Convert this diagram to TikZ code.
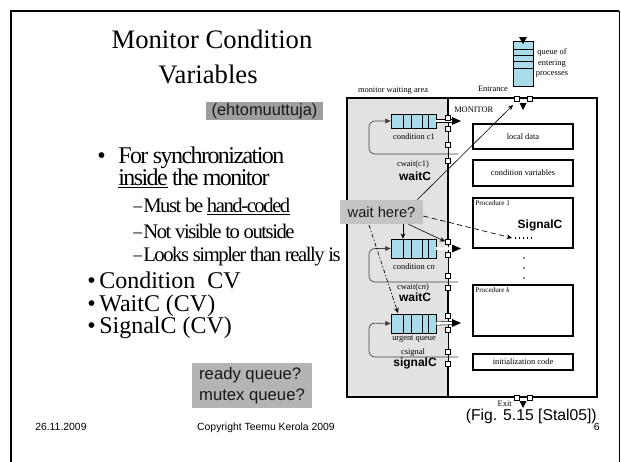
\documentclass[tikz,border=0pt]{standalone}
\usepackage{fontspec}
\setmainfont{Liberation Serif}
\setsansfont{Liberation Sans}
\newfontfamily\condA[LetterSpace=-6.5]{Liberation Serif}
\newfontfamily\condB[LetterSpace=-7]{Liberation Serif}
\usetikzlibrary{arrows.meta,calc}
\definecolor{qc}{RGB}{168,220,234}
\definecolor{areagray}{RGB}{226,226,226}
\definecolor{boxA}{RGB}{158,158,158}
\definecolor{boxB}{RGB}{196,196,196}
\definecolor{boxC}{RGB}{180,180,180}
\begin{document}
\begin{tikzpicture}[x=0.75pt,y=-0.75pt,
  lbl/.style={inner sep=0,font=\fontsize{6.3}{7}\selectfont},
  tiny/.style={inner sep=0,font=\fontsize{5.4}{6}\selectfont},
  bsans/.style={inner sep=0,font=\sffamily\bfseries\fontsize{9}{10}\selectfont},
  sq/.style={draw,fill=white,minimum size=3.8pt,inner sep=0,line width=0.45pt},
  qbox/.style={draw,fill=qc,line width=0.5pt,inner sep=0},
  pbox/.style={draw,line width=1.4pt,inner sep=0},
  loopline/.style={line width=0.5pt,draw=black!75,rounded corners=4.5pt,-{Triangle[length=4pt,width=3.5pt]}},
  outpipe/.style={double,double distance=2pt,line width=0.4pt},
  bul/.style={anchor=mid west,inner sep=0,font=\fontsize{18}{20}\selectfont},
  sub/.style={anchor=mid west,inner sep=0,font=\condB\fontsize{15.5}{17}\selectfont},
  subdash/.style={anchor=mid west,inner sep=0,font=\fontsize{13}{14}\selectfont},
  gbox/.style={inner sep=0,text=black!90}
]
\useasboundingbox (0,0) rectangle (621,461);
\fill[white] (0,0) rectangle (621,461);
% slide frame
\draw[line width=1.8pt] (11,470) -- (11,11) -- (619,11);
\draw[line width=0.7pt] (619,11) -- (619,470);

% title
\node[anchor=mid,inner sep=0,font=\fontsize{20}{24}\selectfont] (title1) at (212,45) {Monitor Condition};
\node[anchor=mid,inner sep=0,font=\fontsize{20}{24}\selectfont] (title2) at (208,80) {Variables};
\node[gbox,fill=boxA,minimum width=87.75pt,minimum height=13.5pt,font=\sffamily\fontsize{12.3}{14}\selectfont] (eh) at (264.5,111) {(ehtomuuttuja)};

% bullets
\node[bul] (b1) at (97,160) {•};
\node[bul,font=\condA\fontsize{18}{20}\selectfont] (t1) at (118,160) {For synchronization};
\node[bul,font=\condA\fontsize{18}{20}\selectfont] (t1b) at (118,182) {\underline{inside} the monitor};
\node[subdash] (d1) at (133,208) {–};
\node[sub] (s1) at (143,209) {Must be \underline{hand-coded}};
\node[subdash] (d2) at (133,234) {–};
\node[sub] (s2) at (143,235) {Not visible to outside};
\node[subdash] (d3) at (133,257) {–};
\node[sub] (s3) at (143,258) {Looks simpler than really is};
\node[bul] (b2) at (87,285) {•};
\node[bul] (t2) at (99,285) {Condition\ \ CV};
\node[bul] (b3) at (87,308) {•};
\node[bul] (t3) at (99,308) {WaitC (CV)};
\node[bul] (b4) at (87,330) {•};
\node[bul] (t4) at (99,330) {SignalC (CV)};
\node[gbox,fill=boxC,minimum width=90pt,minimum height=33.75pt,align=left,font=\sffamily\fontsize{12.5}{15.75}\selectfont] (rq) at (252,385.5) {ready queue?\\mutex queue?};

% footer
\node[anchor=mid west,inner sep=0,font=\sffamily\fontsize{7.8}{9}\selectfont] (date) at (35,427) {26.11.2009};
\node[anchor=mid,inner sep=0,font=\sffamily\fontsize{7.8}{9}\selectfont] (copy) at (266,427) {Copyright Teemu Kerola 2009};
\node[anchor=mid east,inner sep=0,font=\sffamily\fontsize{7.8}{9}\selectfont] (pg) at (600,427) {6};
\node[anchor=mid east,inner sep=0,font=\sffamily\fontsize{11.8}{13}\selectfont] (fig) at (597,417) {(Fig. 5.15 [Stal05])};

% ---------- monitor figure ----------
\fill[areagray] (347,98) rectangle (448,397);
\draw[line width=0.45pt] (448,98) -- (448,397);
\draw[line width=1.6pt] (448,98) -- (448,115);
\draw[line width=1.6pt] (448,163) -- (448,239);
\draw[line width=1.6pt] (448,290) -- (448,313);
\draw[line width=1.6pt] (448,366) -- (448,397);
\draw[line width=1.6pt] (347,98) rectangle (597,397);

\node[lbl] (mwa) at (393,91) {monitor waiting area};
\node[lbl,anchor=mid west] (mon) at (454,109) {MONITOR};
\node[lbl] (ent) at (493,89) {Entrance};
\node[lbl,align=center,font=\fontsize{6.3}{8}\selectfont] (qent) at (552,63) {queue of\\entering\\processes};

% entrance queue
\node[qbox,minimum width=15pt,minimum height=33.75pt] (eq) at (523,63.5) {};
\foreach \yy in {49,55,61,68} \draw[line width=0.5pt] (513,\yy) -- (533,\yy);
\fill (519,37) -- (527,37) -- (523,44) -- cycle;
% entrance gates
\node[sq] (en1) at (516.5,99) {};
\node[sq] (en2) at (529.5,99) {};
\fill (519.5,103) -- (526.5,103) -- (523,110) -- cycle;
% exit gates
\node[sq] (ex1) at (516.5,397.5) {};
\node[sq] (ex2) at (529.5,397.5) {};
\fill (519.5,401) -- (526.5,401) -- (523,408) -- cycle;
\node[lbl,anchor=mid east] (exit) at (512,403.5) {Exit};

% right-hand boxes
\node[pbox,minimum width=75pt,minimum height=18.75pt] (ld) at (523,136.5) {};
\node[lbl] at (ld) {local data};
\node[pbox,minimum width=75pt,minimum height=19.5pt] (cv) at (523,173) {};
\node[lbl] at (cv) {condition variables};
\node[pbox,minimum width=75pt,minimum height=37.5pt] (p1) at (523,223) {};
\node[tiny,anchor=north west] at ($(p1.north west)+(3,3)$) {Procedure 1};
\node[bsans] (sigC) at (540,225) {SignalC};
\node[pbox,minimum width=75pt,minimum height=38.25pt] (pk) at (523,310.5) {};
\node[tiny,anchor=north west] at ($(pk.north west)+(3,3)$) {Procedure \textit{k}};
\node[pbox,minimum width=75pt,minimum height=12pt] (ic) at (523,362) {};
\node[lbl] at (ic) {initialization code};
\foreach \yy in {258,268,278} \fill (524,\yy) circle (0.9);

% ---- queue c1 ----
\node[qbox,minimum width=33.75pt,minimum height=10.5pt] (q1) at (413.5,121) {};
\foreach \xx in {403,411,422,428} \draw[line width=0.5pt] (\xx,114) -- (\xx,128);
\draw[loopline] (458,154) -- (369,154) -- (369,121) -- (q1.west);
\draw[outpipe] (q1.east) -- (453,121);
\fill (452,117) -- (461,121) -- (452,125) -- cycle;
\node[sq] at (448,117.5) {};
\node[sq] at (448,128.5) {};
\node[sq] at (448,145) {};
\node[sq] at (448,160.5) {};
\node[lbl] at (414,137) {condition c1};
\node[lbl] at (413,164) {cwait(c1)};
\node[bsans] (w1) at (415,176) {waitC};

% ---- queue cn ----
\node[qbox,minimum width=33.75pt,minimum height=14.25pt] (q2) at (413.5,248.5) {};
\foreach \xx in {403,411,422,428} \draw[line width=0.5pt] (\xx,239) -- (\xx,258);
\draw[loopline] (458,282) -- (369,282) -- (369,248.5) -- (q2.west);
\draw[outpipe] (q2.east) -- (453,248.5);
\fill (452,244.5) -- (461,248.5) -- (452,252.5) -- cycle;
\node[sq] (g2a) at (448,241.5) {};
\node[sq] at (448,254.5) {};
\node[sq] at (448,275.5) {};
\node[sq] at (448,287.5) {};
\node[lbl] at (414,267) {condition c\textit{n}};
\node[lbl] at (413,287) {cwait(c\textit{n})};
\node[bsans] (w2) at (415,297) {waitC};

% ---- urgent queue ----
\node[qbox,minimum width=33.75pt,minimum height=14.25pt] (q3) at (413.5,323.5) {};
\foreach \xx in {403,411,422,428} \draw[line width=0.5pt] (\xx,314) -- (\xx,333);
\draw[loopline] (458,357) -- (369,357) -- (369,323) -- (q3.west);
\draw[outpipe] (q3.east) -- (453,323);
\fill (452,319) -- (461,323) -- (452,327) -- cycle;
\node[sq] at (448,315.5) {};
\node[sq] at (448,329.5) {};
\node[sq] at (448,351.5) {};
\node[sq] at (448,363.5) {};
\node[lbl] at (414,339) {urgent queue};
\node[lbl] at (413,352) {csignal};
\node[bsans] (sg) at (415,363) {signalC};

% ---- wait here? ----
\node[gbox,fill=boxB,minimum width=62.25pt,minimum height=18pt,font=\sffamily\fontsize{11}{13}\selectfont] (wh) at (381.5,212) {wait here?};
\coordinate (entr) at (513,105);
\draw[line width=0.45pt,-{Stealth[length=4pt,width=3.5pt]}] ($(wh.north east)+(-6,0)$) -- (entr);
\draw[line width=0.5pt,dash pattern=on 4pt off 2.5pt,-{Stealth[length=4pt,width=3.5pt]}] ($(wh.east)+(0,4)$) -- (512,238);
\draw[line width=0.9pt,dash pattern=on 1pt off 2pt] (515,238) -- (532,238);
\draw[line width=0.45pt,-{Stealth[length=4pt,width=3.5pt]}] ($(wh.south)+(27,0)$) -- (g2a.west);
\draw[line width=0.45pt,-{Stealth[length=4pt,width=3.5pt]}] (403,224) -- (q2.north -| 403,224);
\draw[line width=0.5pt,dash pattern=on 3pt off 1.5pt on 1pt off 1.5pt,-{Stealth[length=4pt,width=3.5pt]}] (369,225) -- (398,313);
\end{tikzpicture}
\end{document}
